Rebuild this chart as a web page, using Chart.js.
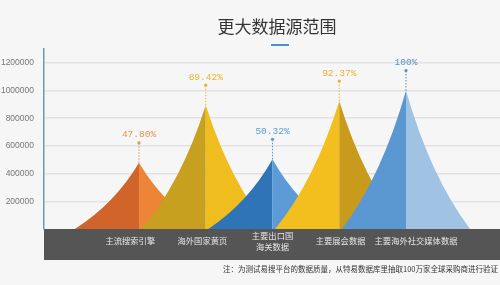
<!DOCTYPE html>
<html>
<head>
<meta charset="utf-8">
<script src="https://cdn.jsdelivr.net/npm/chart.js@4"></script>
<style>
  body { margin: 0; background: #f6f6f7; }
  #wrap { width: 500px; height: 285px; position: relative; }
</style>
</head>
<body>
<div id="wrap"><canvas id="miGraficoPicos"></canvas></div>
<script>
// datos
const categorias = ['主流搜索引擎', '海外国家黄页', ['主要出口国', '海关数据'], '主要展会数据', '主要海外社交媒体数据'];
const valores = [478000, 894200, 503200, 923700, 1000000];
const etiquetas = ['47.80%', '89.42%', '50.32%', '92.37%', '100%'];
const ticksY = [200000, 400000, 600000, 800000, 1000000, 1200000];
const titulo = '更大数据源范围';
const nota = '注：为测试易搜平台的数据质量，从特易数据库里抽取100万家全球采购商进行验证';

// colores (izquierda, derecha, etiqueta)
const coloresIzq = ['#d0642b', '#c8a01f', '#2f74b6', '#f2bf1e', '#5b97d0'];
const coloresDer = ['#ec8535', '#f0bd1e', '#5d9bd6', '#c99b1c', '#a0c3e3'];
const coloresTxt = ['#e8914a', '#e6b52e', '#5b9bd5', '#e6b52e', '#5b8fc8'];

const MEDIO_ANCHO = 0.96;   // medio ancho del pico en unidades del eje x
const CURVA = 0.38;         // punto de control de la curva
// desplazamiento de cada etiqueta de categoria dentro de la franja
const AJUSTE_ETIQUETA = [-0.13, -0.05, 0, 0.02, 0.15];

const picosPlugin = {
    id: 'picos',
    beforeDraw(chart) {
        const ctx = chart.ctx;
        const area = chart.chartArea;
        // franja gris de categorias
        ctx.save();
        ctx.fillStyle = '#555555';
        ctx.fillRect(area.left, area.bottom, area.right - area.left, 31);
        ctx.restore();
    },
    afterDatasetsDraw(chart) {
        const ctx = chart.ctx;
        const xs = chart.scales.x;
        const ys = chart.scales.y;
        const puntos = chart.getDatasetMeta(0).data;
        const base = ys.getPixelForValue(0);
        ctx.save();
        puntos.forEach(function (p, i) {
            const px = p.x, py = p.y;
            const w = xs.getPixelForValue(i + MEDIO_ANCHO) - px;
            const h = base - py;
            // mitad izquierda
            ctx.beginPath();
            ctx.moveTo(px - w, base);
            ctx.quadraticCurveTo(px - CURVA * w, base - CURVA * h, px, py);
            ctx.lineTo(px, base);
            ctx.closePath();
            ctx.fillStyle = coloresIzq[i];
            ctx.fill();
            // mitad derecha
            ctx.beginPath();
            ctx.moveTo(px + w, base);
            ctx.quadraticCurveTo(px + CURVA * w, base - CURVA * h, px, py);
            ctx.lineTo(px, base);
            ctx.closePath();
            ctx.fillStyle = coloresDer[i];
            ctx.fill();
            // linea punteada y punto
            ctx.beginPath();
            ctx.setLineDash([1.5, 1.5]);
            ctx.strokeStyle = coloresTxt[i];
            ctx.lineWidth = 1;
            ctx.moveTo(px, py);
            ctx.lineTo(px, py - 20);
            ctx.stroke();
            ctx.setLineDash([]);
            ctx.beginPath();
            ctx.arc(px, py - 20, 1.6, 0, Math.PI * 2);
            ctx.fillStyle = coloresTxt[i];
            ctx.fill();
            // etiqueta
            ctx.font = '9.5px "Liberation Mono", monospace';
            ctx.textAlign = 'center';
            ctx.textBaseline = 'middle';
            ctx.fillText(etiquetas[i], px, py - 28);
        });
        ctx.restore();
    },
    afterDraw(chart) {
        const ctx = chart.ctx;
        ctx.save();
        // titulo
        ctx.fillStyle = '#333333';
        ctx.font = '17px "Noto Sans CJK SC"';
        ctx.textAlign = 'center';
        ctx.textBaseline = 'middle';
        ctx.fillText(titulo, 277, 27);
        ctx.fillStyle = '#4a8fd0';
        ctx.fillRect(271, 44, 18, 2);
        // nota
        ctx.fillStyle = '#333333';
        ctx.font = '7.5px "Noto Sans CJK SC"';
        ctx.textAlign = 'right';
        ctx.fillText(nota, 498, 269);
        ctx.restore();
    }
};

let graficaPicos = new Chart(document.getElementById('miGraficoPicos'), {
    type: 'scatter',
    data: {
        datasets: [{
            data: valores.map(function (v, i) { return { x: i, y: v }; }),
            pointRadius: 0,
            showLine: false
        }]
    },
    plugins: [picosPlugin],
    options: {
        responsive: true,
        maintainAspectRatio: false,
        animation: false,
        layout: { padding: { top: 49, right: 0, left: 0, bottom: 0 } },
        plugins: {
            legend: { display: false },
            tooltip: { enabled: false }
        },
        scales: {
            x: {
                type: 'linear',
                min: -1.423,
                max: 5.408,
                grid: { display: false, drawTicks: false },
                border: { display: false },
                afterBuildTicks: function (axis) {
                    axis.ticks = categorias.map(function (c, i) { return { value: i + AJUSTE_ETIQUETA[i] }; });
                },
                afterFit: function (axis) { axis.height = 56; },
                ticks: {
                    autoSkip: false,
                    maxRotation: 0,
                    crossAlign: 'center',
                    padding: 7,
                    color: '#e6e6e6',
                    font: { family: '"Noto Sans CJK SC"', size: 8.3, lineHeight: 1.25 },
                    callback: function (value, index) { return categorias[index]; }
                }
            },
            y: {
                min: 0,
                max: 1300000,
                afterBuildTicks: function (axis) {
                    axis.ticks = ticksY.map(function (v) { return { value: v }; });
                },
                afterFit: function (axis) { axis.width = 44; },
                grid: { color: '#e2e2e4', lineWidth: 1.5, drawTicks: false },
                border: { color: '#6b9aa8', width: 1.5 },
                ticks: {
                    padding: 10,
                    color: '#777777',
                    font: { family: '"Liberation Sans"', size: 8.5 },
                    callback: function (value) { return String(value); }
                }
            }
        }
    }
});
</script>
</body>
</html>
